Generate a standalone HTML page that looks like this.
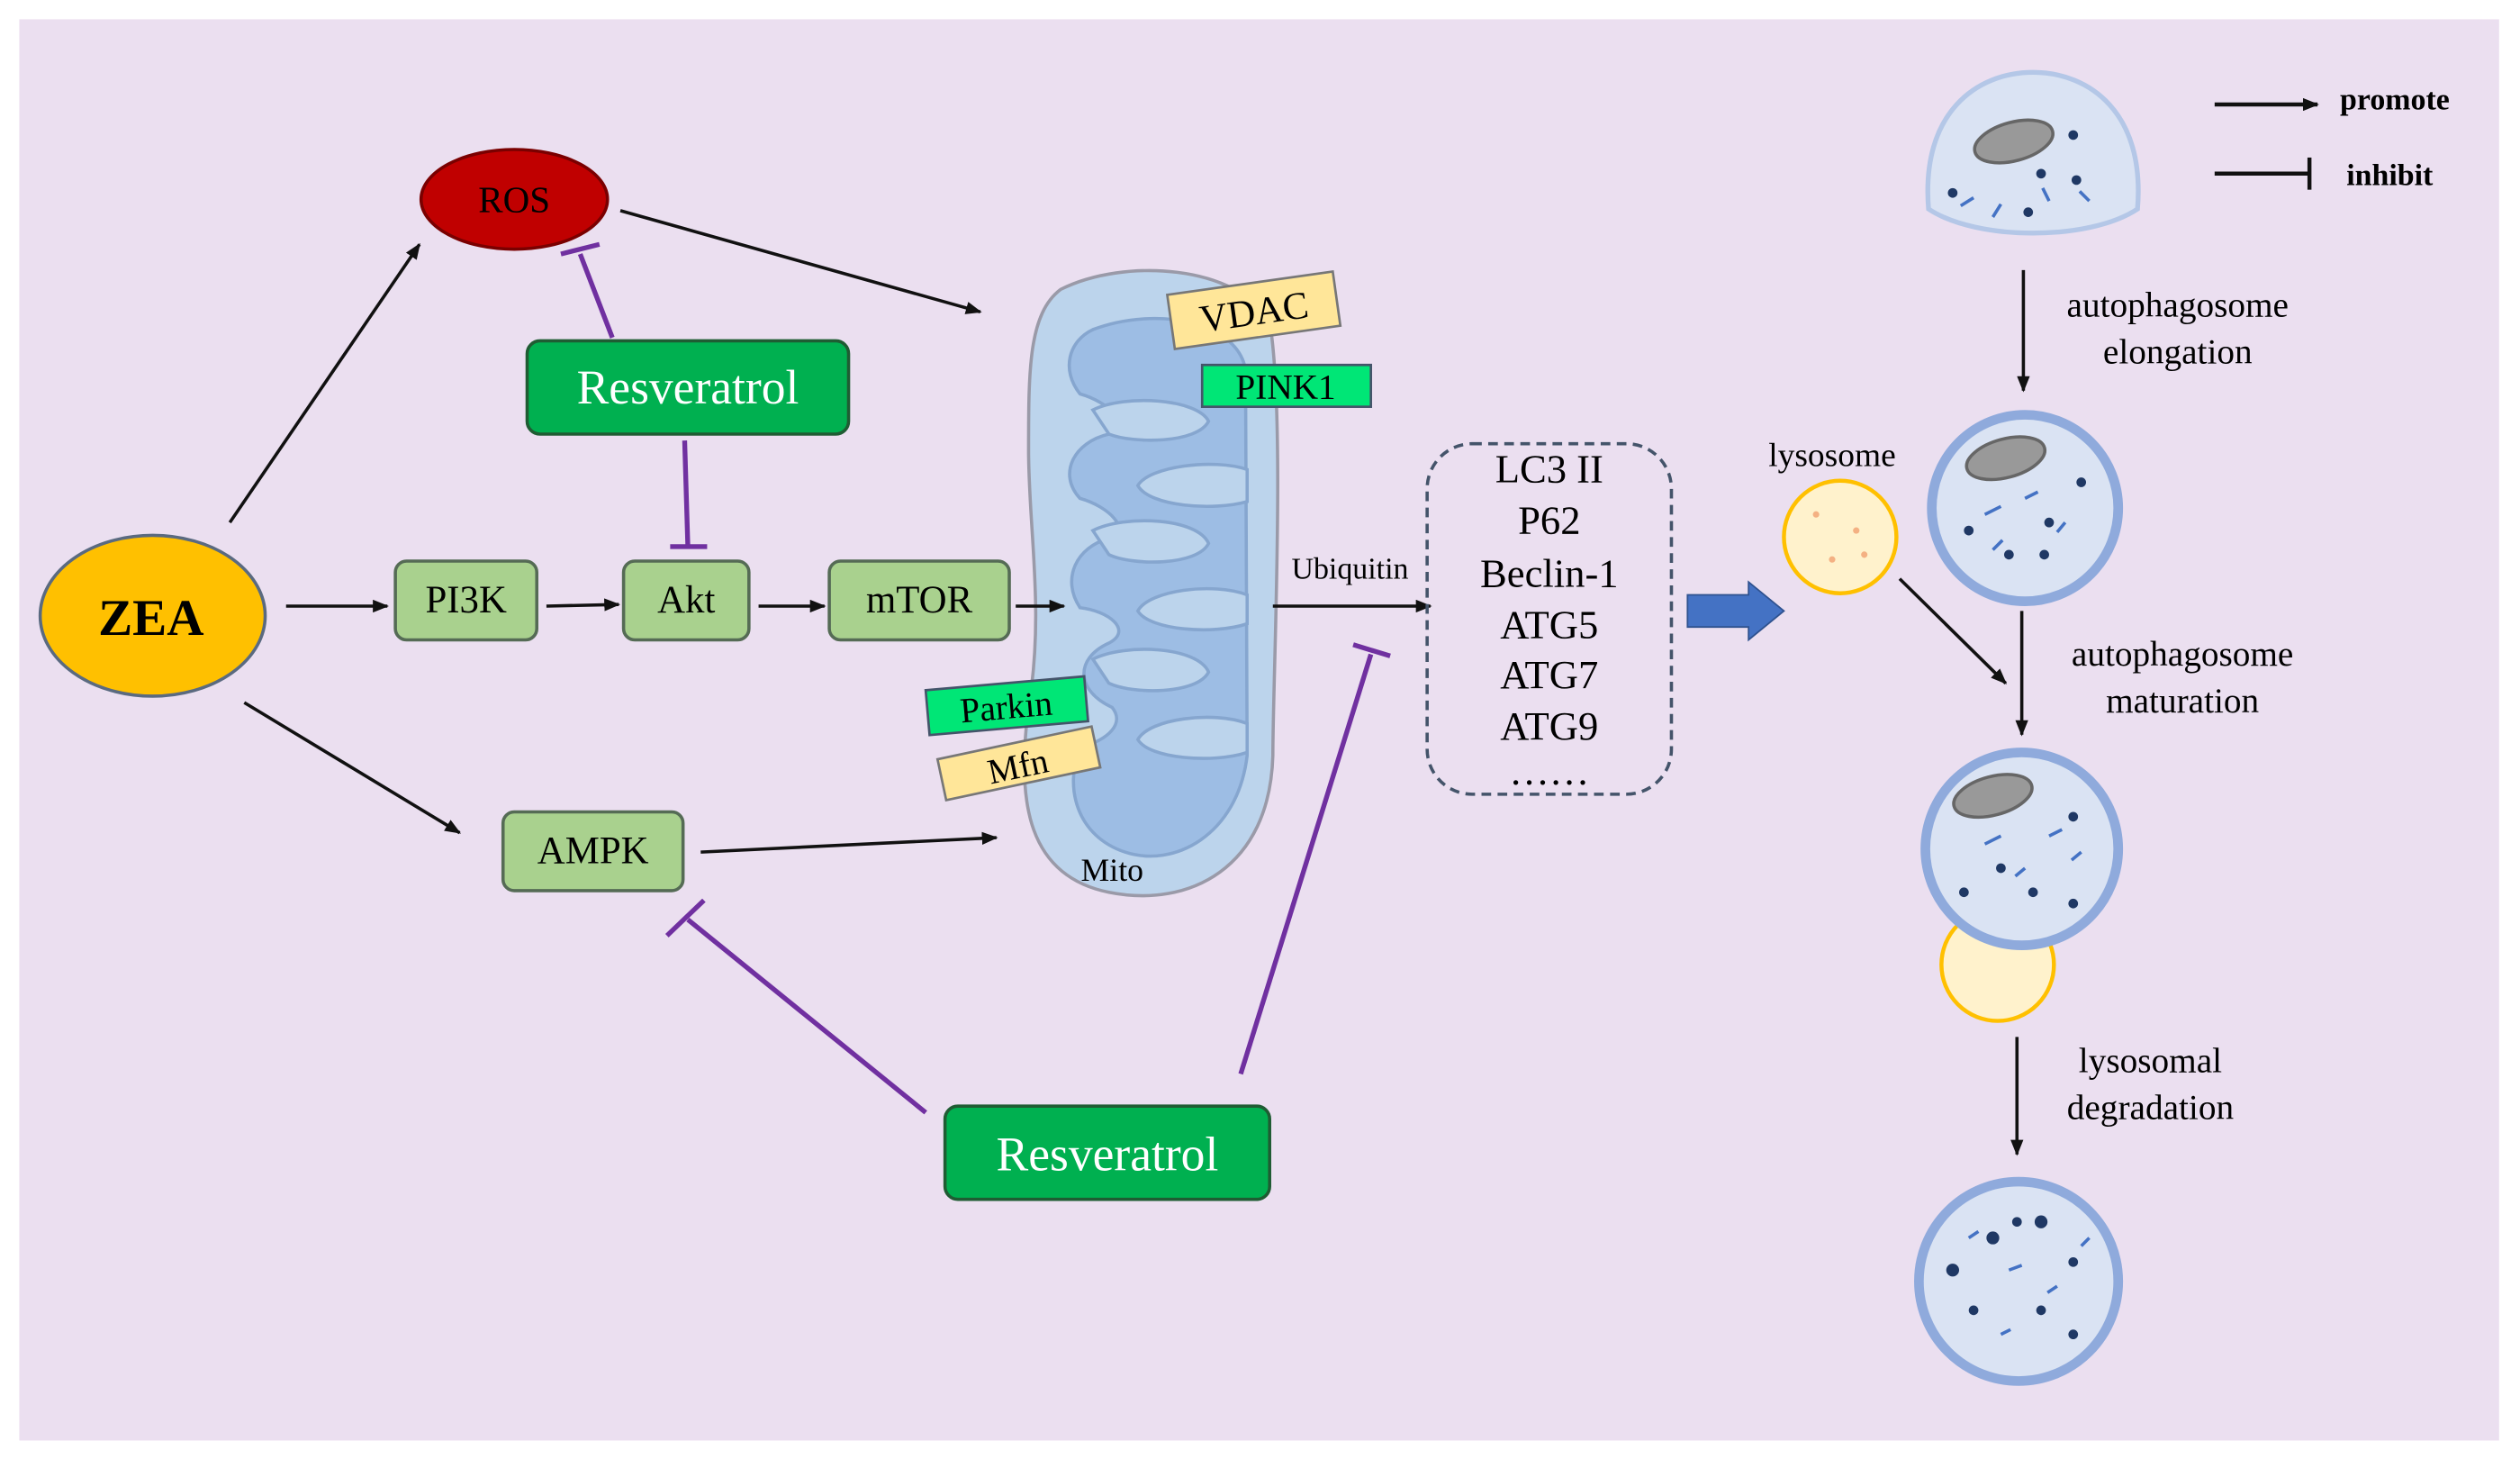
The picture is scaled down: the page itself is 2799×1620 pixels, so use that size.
<!DOCTYPE html>
<html><head><meta charset="utf-8"><style>
html,body{margin:0;padding:0;background:#fff;}
svg{display:block;}
text{font-family:"Liberation Serif",serif;}
</style></head><body>
<svg width="2799" height="1620" viewBox="0 0 1568 907.5" preserveAspectRatio="none" xmlns="http://www.w3.org/2000/svg">
<defs>
<marker id="ah" markerWidth="10" markerHeight="8" refX="9" refY="4" orient="auto" markerUnits="userSpaceOnUse"><path d="M0,0 L10,4 L0,8 Z" fill="#111"/></marker>
</defs>
<rect x="12" y="12" width="1543" height="884" fill="#ebdff0"/>

<!-- Mitochondrion -->
<path d="M660,180 C700,160 770,165 790,200 C800,260 792,420 792,470 C790,540 740,565 690,555 C640,545 632,500 640,440 C650,380 640,330 640,280 C640,230 640,195 660,180 Z" fill="#bcd4ec" stroke="#9a9aa8" stroke-width="2"/>
<path d="M680,205 C720,190 770,200 775,230 L776,470 C770,520 730,540 700,530 C670,520 662,490 672,465 C690,460 700,450 692,440 C670,430 668,410 690,400 C705,392 690,380 672,378 C660,360 670,340 690,335 C705,330 690,315 672,310 C658,295 668,275 690,270 C705,265 690,250 672,245 C660,230 665,212 680,205 Z" fill="#9dbde4" stroke="#86a6cf" stroke-width="2"/>
<g fill="#bcd4ec" stroke="#86a6cf" stroke-width="2">
<path d="M680,255 C700,245 745,248 752,262 C745,276 705,276 690,270 Z"/>
<path d="M776,292 C755,285 715,290 708,302 C715,315 755,318 776,312 Z"/>
<path d="M680,330 C700,320 745,322 752,338 C745,352 705,352 690,345 Z"/>
<path d="M776,370 C755,362 715,367 708,380 C715,392 755,395 776,388 Z"/>
<path d="M680,410 C700,400 745,402 752,418 C745,432 705,432 690,425 Z"/>
<path d="M776,450 C755,442 715,447 708,460 C715,472 755,475 776,468 Z"/>
</g>
<text x="692" y="548" font-size="20" text-anchor="middle">Mito</text>

<g transform="rotate(-8 780 192)"><rect x="728" y="176" width="104" height="34" fill="#ffe699" stroke="#777" stroke-width="1.5"/><text x="780" y="202" font-size="24" text-anchor="middle">VDAC</text></g>
<rect x="748" y="227" width="105" height="26" fill="#00e676" stroke="#44546a" stroke-width="1.5"/><text x="800" y="248" font-size="22" text-anchor="middle">PINK1</text>
<g transform="rotate(-5 626 439)"><rect x="577" y="425" width="99" height="28" fill="#00e676" stroke="#44546a" stroke-width="1.5"/><text x="626" y="447" font-size="22" text-anchor="middle">Parkin</text></g>
<g transform="rotate(-12 633 475)"><rect x="585" y="462" width="98" height="26" fill="#ffe699" stroke="#777" stroke-width="1.5"/><text x="633" y="484" font-size="22" text-anchor="middle">Mfn</text></g>

<!-- nodes -->
<ellipse cx="320" cy="124" rx="58" ry="31" fill="#c00000" stroke="#7a0000" stroke-width="2"/>
<text x="320" y="132" font-size="23" text-anchor="middle">ROS</text>
<ellipse cx="95" cy="383" rx="70" ry="50" fill="#ffc000" stroke="#5a6a80" stroke-width="2"/>
<text x="94" y="395" font-size="32" font-weight="bold" text-anchor="middle">ZEA</text>

<g fill="#a9d18e" stroke="#556b55" stroke-width="2">
<rect x="246" y="349" width="88" height="49" rx="7"/>
<rect x="388" y="349" width="78" height="49" rx="7"/>
<rect x="516" y="349" width="112" height="49" rx="7"/>
<rect x="313" y="505" width="112" height="49" rx="7"/>
</g>
<g font-size="24" text-anchor="middle">
<text x="290" y="381">PI3K</text><text x="427" y="381">Akt</text><text x="572" y="381">mTOR</text><text x="369" y="537">AMPK</text>
</g>

<rect x="328" y="212" width="200" height="58" rx="8" fill="#00b050" stroke="#1f5c33" stroke-width="2"/>
<text x="428" y="251" font-size="30" fill="#fff" text-anchor="middle">Resveratrol</text>
<rect x="588" y="688" width="202" height="58" rx="8" fill="#00b050" stroke="#1f5c33" stroke-width="2"/>
<text x="689" y="728" font-size="30" fill="#fff" text-anchor="middle">Resveratrol</text>

<!-- arrows -->
<g stroke="#111" stroke-width="2" marker-end="url(#ah)">
<line x1="143" y1="325" x2="261" y2="152"/>
<line x1="386" y1="131" x2="610" y2="194"/>
<line x1="178" y1="377" x2="241" y2="377"/>
<line x1="340" y1="377" x2="385" y2="376"/>
<line x1="472" y1="377" x2="513" y2="377"/>
<line x1="632" y1="377" x2="662" y2="377"/>
<line x1="152" y1="437" x2="286" y2="518"/>
<line x1="436" y1="530" x2="620" y2="521"/>
<line x1="792" y1="377" x2="890" y2="377"/>
<line x1="1182" y1="360" x2="1248" y2="425"/>
<line x1="1259" y1="168" x2="1259" y2="243"/>
<line x1="1258" y1="380" x2="1258" y2="457"/>
<line x1="1255" y1="645" x2="1255" y2="718"/>
<line x1="1378" y1="65" x2="1442" y2="65" stroke-width="2.5"/>
</g>
<text x="840" y="360" font-size="19" text-anchor="middle">Ubiquitin</text>

<!-- inhibition -->
<g stroke="#7030a0" stroke-width="3" fill="none">
<line x1="381" y1="210" x2="361" y2="158"/><line x1="349" y1="158" x2="373" y2="152"/>
<line x1="426" y1="274" x2="428" y2="340"/><line x1="417" y1="340" x2="440" y2="340"/>
<line x1="576" y1="692" x2="428" y2="572"/><line x1="415" y1="582" x2="438" y2="560"/>
<line x1="772" y1="668" x2="853" y2="407"/><line x1="842" y1="401" x2="865" y2="408"/>
</g>

<!-- dashed box -->
<rect x="888" y="276" width="152" height="218" rx="28" fill="none" stroke="#44546a" stroke-width="2" stroke-dasharray="6,4"/>
<g font-size="25" text-anchor="middle">
<text x="964" y="300">LC3 II</text><text x="964" y="332">P62</text><text x="964" y="365">Beclin-1</text><text x="964" y="397">ATG5</text><text x="964" y="428">ATG7</text><text x="964" y="460">ATG9</text><text x="964" y="488">……</text>
</g>
<path d="M1050,370 L1088,370 L1088,362 L1110,380 L1088,398 L1088,390 L1050,390 Z" fill="#4472c4" stroke="#2f528f" stroke-width="1"/>

<text x="1140" y="290" font-size="21" text-anchor="middle">lysosome</text>
<circle cx="1145" cy="334" r="35" fill="#fff2cc" stroke="#ffc000" stroke-width="2.5"/>
<g fill="#f4b183"><circle cx="1130" cy="320" r="2"/><circle cx="1155" cy="330" r="2"/><circle cx="1140" cy="348" r="2"/><circle cx="1160" cy="345" r="2"/></g>

<!-- cells -->
<path d="M1200,130 C1195,70 1230,45 1265,45 C1300,45 1335,70 1330,130 C1300,150 1230,150 1200,130 Z" fill="#dae3f3" stroke="#b4c7e7" stroke-width="3"/>
<ellipse cx="1253" cy="88" rx="25" ry="12" fill="#999" stroke="#666" stroke-width="2" transform="rotate(-15 1253 88)"/>
<circle cx="1260" cy="316" r="58" fill="#dae3f3" stroke="#8faadc" stroke-width="6"/>
<ellipse cx="1248" cy="285" rx="25" ry="12" fill="#999" stroke="#666" stroke-width="2" transform="rotate(-15 1248 285)"/>
<circle cx="1243" cy="600" r="35" fill="#fff2cc" stroke="#ffc000" stroke-width="2.5"/>
<circle cx="1258" cy="528" r="60" fill="#dae3f3" stroke="#8faadc" stroke-width="6"/>
<ellipse cx="1240" cy="495" rx="25" ry="12" fill="#999" stroke="#666" stroke-width="2" transform="rotate(-15 1240 495)"/>
<circle cx="1256" cy="797" r="62" fill="#dae3f3" stroke="#8faadc" stroke-width="6"/>
<g fill="#1f3864">
<circle cx="1215" cy="120" r="3"/><circle cx="1270" cy="108" r="3"/><circle cx="1292" cy="112" r="3"/><circle cx="1290" cy="84" r="3"/><circle cx="1262" cy="132" r="3"/>
<circle cx="1225" cy="330" r="3"/><circle cx="1275" cy="325" r="3"/><circle cx="1295" cy="300" r="3"/><circle cx="1250" cy="345" r="3"/><circle cx="1272" cy="345" r="3"/>
<circle cx="1222" cy="555" r="3"/><circle cx="1265" cy="555" r="3"/><circle cx="1290" cy="508" r="3"/><circle cx="1245" cy="540" r="3"/><circle cx="1290" cy="562" r="3"/>
<circle cx="1215" cy="790" r="4"/><circle cx="1240" cy="770" r="4"/><circle cx="1270" cy="760" r="4"/><circle cx="1290" cy="785" r="3"/><circle cx="1228" cy="815" r="3"/><circle cx="1270" cy="815" r="3"/><circle cx="1290" cy="830" r="3"/><circle cx="1255" cy="760" r="3"/>
</g>
<g stroke="#4472c4" stroke-width="2" fill="none">
<path d="M1220,128 l8,-5 M1240,135 l5,-8 M1275,125 l-4,-8 M1300,125 l-6,-6"/>
<path d="M1235,320 l10,-5 M1260,310 l8,-4 M1285,325 l-5,6 M1240,342 l6,-6"/>
<path d="M1235,525 l10,-5 M1275,520 l8,-4 M1260,540 l-6,5 M1295,530 l-6,5"/>
<path d="M1225,770 l6,-4 M1250,790 l8,-3 M1280,800 l-6,4 M1300,770 l-5,5 M1245,830 l6,-3"/>
</g>

<g font-size="22" text-anchor="middle">
<text x="1355" y="197">autophagosome</text><text x="1355" y="226">elongation</text>
<text x="1358" y="414">autophagosome</text><text x="1358" y="443">maturation</text>
<text x="1338" y="667">lysosomal</text><text x="1338" y="696">degradation</text>
</g>

<line x1="1378" y1="108" x2="1437" y2="108" stroke="#111" stroke-width="2.5"/>
<line x1="1437" y1="98" x2="1437" y2="118" stroke="#111" stroke-width="2.5"/>
<text x="1456" y="68" font-size="19" font-weight="bold">promote</text>
<text x="1460" y="115" font-size="19" font-weight="bold">inhibit</text>
</svg>
</body></html>
